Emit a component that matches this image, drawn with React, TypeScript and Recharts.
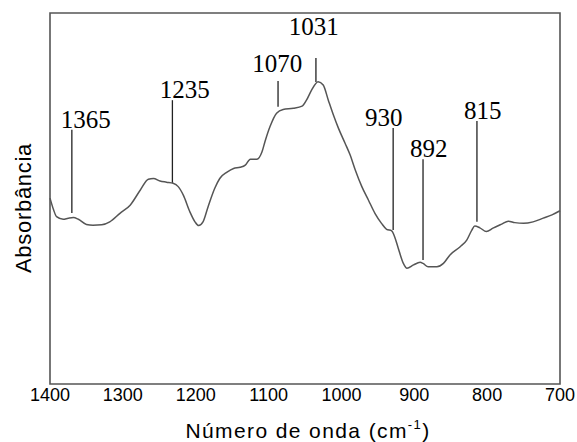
import React from 'react';
import { LineChart, Line, XAxis, YAxis, ReferenceArea, ReferenceLine, ReferenceDot } from 'recharts';

// wavenumber (cm-1) and absorbance (arbitrary units)
const wavenumber = [
  1400, 1395, 1391, 1382, 1375, 1368, 1361, 1350, 1341, 1329, 1318, 1304, 1290, 1276, 1265, 1258,
  1249, 1240, 1231, 1224, 1217, 1208, 1201, 1196, 1190, 1183, 1174, 1167, 1157, 1148, 1139, 1132,
  1125, 1116, 1109, 1105, 1098, 1089, 1080, 1066, 1054, 1048, 1041, 1032, 1025, 1018, 1011, 1004,
  995, 988, 981, 972, 963, 954, 945, 938, 931, 927, 922, 915, 910, 901, 892, 888, 881, 869, 860,
  851, 837, 828, 821, 817, 810, 801, 792, 780, 771, 762, 750, 737, 723, 711, 700,
];
const absorbance = [
  0.501, 0.469, 0.451, 0.444, 0.447, 0.449, 0.444, 0.430, 0.428, 0.429, 0.437, 0.460, 0.482, 0.523, 0.552, 0.554,
  0.547, 0.544, 0.541, 0.532, 0.509, 0.464, 0.437, 0.427, 0.437, 0.478, 0.527, 0.554, 0.571, 0.581, 0.584, 0.590,
  0.606, 0.606, 0.626, 0.653, 0.694, 0.730, 0.740, 0.743, 0.749, 0.765, 0.792, 0.815, 0.806, 0.765, 0.725, 0.689,
  0.649, 0.617, 0.577, 0.532, 0.496, 0.460, 0.433, 0.417, 0.413, 0.397, 0.366, 0.325, 0.312, 0.321, 0.328, 0.325, 0.316, 0.316, 0.325,
  0.348, 0.370, 0.388, 0.415, 0.426, 0.421, 0.411, 0.420, 0.431, 0.439, 0.435, 0.433, 0.437, 0.447, 0.456, 0.467,
];

const xTicks = [1400, 1300, 1200, 1100, 1000, 900, 800, 700];

// peak annotations
const peakLabels = ['1365', '1235', '1070', '1031', '930', '892', '815'];
const markerWn = [1370, 1232, 1087, 1035, 929, 888, 814];
const markerTop = [0.685, 0.765, 0.817, 0.879, 0.69, 0.606, 0.709];
const markerBottom = [0.461, 0.542, 0.747, 0.814, 0.415, 0.334, 0.437];
const labelWn = [1351, 1215, 1088, 1038, 942, 880, 806];
const labelAbs = [0.69, 0.771, 0.841, 0.941, 0.695, 0.612, 0.714];

const data = wavenumber.map((w, i) => ({ wn: w, abs: absorbance[i] }));

const XTitle = (props: any) => {
  const { viewBox } = props;
  const cx = viewBox.x + viewBox.width / 2;
  return (
    <text
      x={cx + 3}
      y={438}
      textAnchor="middle"
      fontFamily="Liberation Sans, Arial, sans-serif"
      fontSize={21}
      letterSpacing={1.4}
      fill="#000"
    >
      Número de onda (cm
      <tspan fontSize={13} dy={-9}>-1</tspan>
      <tspan dy={9}>)</tspan>
    </text>
  );
};

export default function App() {
  return (
    <div style={{ position: 'absolute', left: 0, top: 0 }}>
      <LineChart width={577} height={442} data={data} margin={{ top: 13, right: 17, bottom: 0, left: 50 }}>
        <XAxis
          dataKey="wn"
          type="number"
          domain={[700, 1400]}
          reversed
          ticks={xTicks}
          interval={0}
          height={58}
          axisLine={false}
          tickLine={false}
          tickSize={0}
          tickMargin={4}
          tick={{ fill: '#000', fontSize: 18, fontFamily: 'Liberation Sans, Arial, sans-serif' }}
          label={<XTitle />}
        />
        <YAxis type="number" domain={[0, 1]} hide />
        <ReferenceArea x1={1400} x2={700} y1={0} y2={1} fill="none" stroke="#555" strokeWidth={1.6} />
        {markerWn.map((w, i) => (
          <ReferenceLine
            key={'m' + i}
            segment={[{ x: w, y: markerBottom[i] }, { x: w, y: markerTop[i] }]}
            stroke="#222"
            strokeWidth={1.3}
          />
        ))}
        {labelWn.map((w, i) => (
          <ReferenceDot
            key={'l' + i}
            x={w}
            y={labelAbs[i]}
            r={0}
            shape={(p: any) => (
              <text
                x={p.cx}
                y={p.cy}
                textAnchor="middle"
                fontFamily="Liberation Serif, Times New Roman, serif"
                fontSize={25}
                fill="#000"
              >
                {peakLabels[i]}
              </text>
            )}
          />
        ))}
        <Line
          type="monotone"
          dataKey="abs"
          stroke="#555"
          strokeWidth={1.5}
          dot={false}
          isAnimationActive={false}
        />
      </LineChart>
      <div
        style={{
          position: 'absolute',
          left: 24,
          top: 208,
          transform: 'translate(-50%, -50%) rotate(-90deg)',
          fontFamily: 'Liberation Sans, Arial, sans-serif',
          fontSize: 22,
          letterSpacing: 0.7,
          whiteSpace: 'nowrap',
          color: '#000',
        }}
      >
        Absorbância
      </div>
    </div>
  );
}
